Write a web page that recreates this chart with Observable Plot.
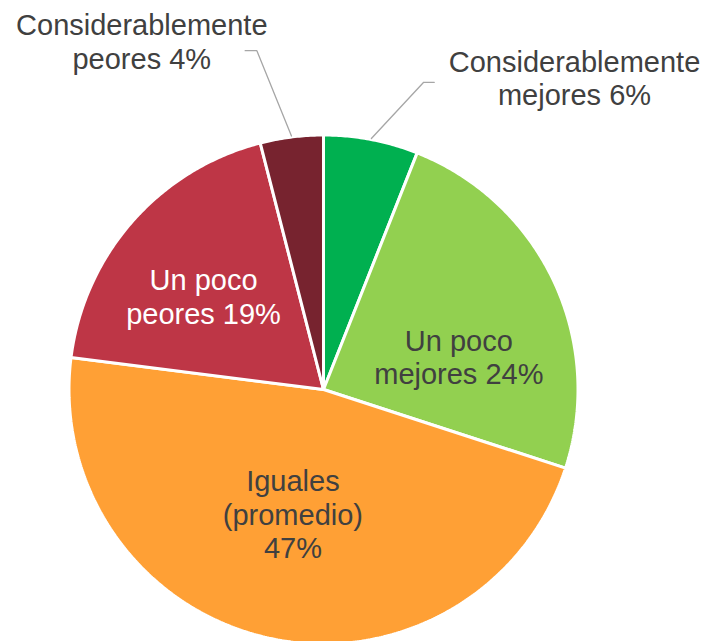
<!DOCTYPE html>
<html>
<head>
<meta charset="utf-8">
<script src="https://cdn.jsdelivr.net/npm/d3@7"></script>
<script src="https://cdn.jsdelivr.net/npm/@observablehq/plot@0.6"></script>
<style>
  html, body { margin: 0; padding: 0; background: #fff; }
  #chart { width: 719px; height: 641px; }
</style>
</head>
<body>
<div id="chart"></div>
<script>
// ---- data ----
const categories = ["Considerablemente mejores", "Un poco mejores", "Iguales (promedio)", "Un poco peores", "Considerablemente peores"];
const values = [6, 24, 47, 19, 4];
const labelTexts = ["Considerablemente\nmejores 6%", "Un poco\nmejores 24%", "Iguales\n(promedio)\n47%", "Un poco\npeores 19%", "Considerablemente\npeores 4%"];
const colors = ["#00B050", "#92D050", "#FFA035", "#BE3646", "#77232F"];
const labelColors = ["#404040", "#404040", "#404040", "#ffffff", "#404040"];

// ---- layout (pixels / fractions of radius) ----
const CX = 323, CY = 389, R = 253;
const OUTER = 1 + 1.5 / R; // compensate for the white border
const labelLayout = [
  {r: 1.0, dx: 203.6, dy: -63},
  {r: 0.6, dx: -2, dy: 32},
  {r: 0.5, dx: -3, dy: 1},
  {r: 0.55, dx: -15.6, dy: -1},
  {r: 1.0, dx: -150, dy: -97}
];
const leaderLayout = {
  0: {r: 1.01, pts: [[0, 0], [52.3, -56.2], [62.9, -56.2]]},
  4: {r: 1.01, pts: [[0, 0], [-34.6, -85.3], [-46.3, -85.3]]}
};

// ---- geometry from data ----
const total = d3.sum(values);
let acc = 0;
const slices = values.map((v, i) => {
  const a0 = acc / total * 2 * Math.PI;
  acc += v;
  const a1 = acc / total * 2 * Math.PI;
  return {i, name: categories[i], value: v, a0, a1, mid: (a0 + a1) / 2};
});
const polar = (a, r) => [r * Math.sin(a), r * Math.cos(a)];

function slicePolygon(s) {
  const pts = [[0, 0]];
  const n = Math.max(2, Math.ceil((s.a1 - s.a0) / (Math.PI / 360)));
  for (let k = 0; k <= n; k++) pts.push(polar(s.a0 + (s.a1 - s.a0) * k / n, OUTER));
  pts.push([0, 0]);
  return pts;
}

const labelData = slices.map(s => {
  const L = labelLayout[s.i];
  const [x, y] = polar(s.mid, L.r);
  return {x: x + L.dx / R, y: y - L.dy / R, text: labelTexts[s.i], color: labelColors[s.i]};
});

const leaderMarks = Object.entries(leaderLayout).map(([i, L]) => {
  const s = slices[+i];
  const [x0, y0] = polar(s.mid, L.r);
  const pts = L.pts.map(([dx, dy]) => [x0 + dx / R, y0 - dy / R]);
  return Plot.line(pts, {x: d => d[0], y: d => d[1], stroke: "#A6A6A6", strokeWidth: 1.3, curve: "linear"});
});

const sliceMarks = slices.map(s =>
  Plot.line(slicePolygon(s), {
    x: d => d[0], y: d => d[1],
    fill: colors[s.i], stroke: "#ffffff", strokeWidth: 3, strokeLinejoin: "miter"
  })
);

const chart = Plot.plot({
  width: 719,
  height: 641,
  margin: 0,
  x: {domain: [-1, 1], range: [CX - R, CX + R], axis: null},
  y: {domain: [-1, 1], range: [CY + R, CY - R], axis: null},
  color: {type: "identity"},
  style: {fontFamily: "'Liberation Sans', Arial, sans-serif", background: "#fff", overflow: "visible"},
  marks: [
    ...sliceMarks,
    ...leaderMarks,
    Plot.text(labelData, {
      x: "x", y: "y", text: "text", fill: "color",
      fontSize: 29, lineHeight: 1.155, textAnchor: "middle"
    })
  ]
});
document.getElementById("chart").appendChild(chart);
</script>
</body>
</html>
